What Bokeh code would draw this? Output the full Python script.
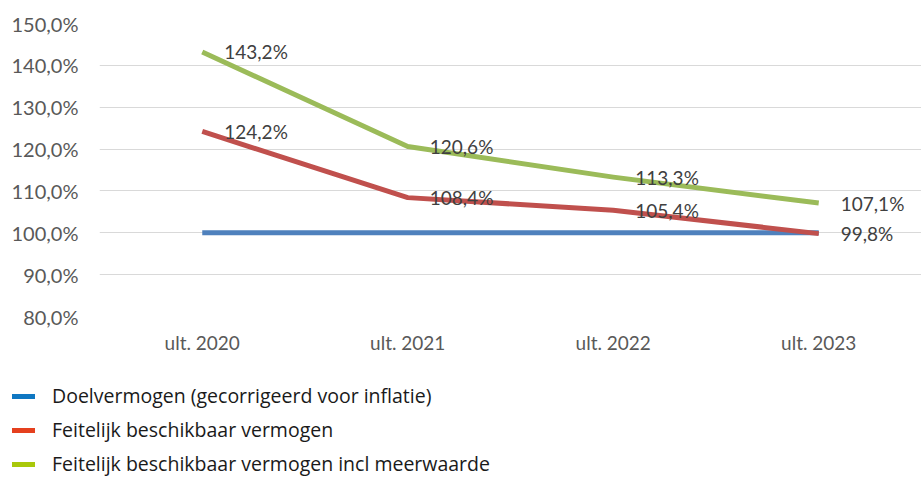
from bokeh.plotting import figure
from bokeh.models import Range1d, ColumnDataSource, LabelSet, Legend, LegendItem, FixedTicker
from bokeh.core.properties import value
from bokeh.embed import file_html
from bokeh.resources import INLINE

categories = ["ult. 2020", "ult. 2021", "ult. 2022", "ult. 2023"]
doel = [100.0, 100.0, 100.0, 100.0]
feitelijk = [124.2, 108.4, 105.4, 99.8]
incl_meerwaarde = [143.2, 120.6, 113.3, 107.1]
y_ticks = [80, 90, 100, 110, 120, 130, 140, 150]
legend_labels = [
    "Doelvermogen (gecorrigeerd voor inflatie)",
    "Feitelijk beschikbaar vermogen",
    "Feitelijk beschikbaar vermogen incl meerwaarde",
]

def pct(v):
    return f"{v:.1f}".replace(".", ",") + "%"

TICK_FONT = "Lato"

p = figure(x_range=categories, y_range=Range1d(80, 150), width=921, height=370,
           output_backend="svg", toolbar_location=None,
           min_border_left=99, min_border_right=0, min_border_top=23, min_border_bottom=54)
p.outline_line_color = None
p.background_fill_color = "white"
p.border_fill_color = "white"

p.xgrid.grid_line_color = None
p.ygrid.grid_line_color = "#d9d9d9"
p.ygrid.grid_line_width = 1

p.yaxis.ticker = FixedTicker(ticks=y_ticks)
p.yaxis.major_label_overrides = {t: pct(t) for t in y_ticks}
for ax in (p.xaxis[0], p.yaxis[0]):
    ax.axis_line_color = None
    ax.major_tick_line_color = None
    ax.minor_tick_line_color = None
    ax.major_label_text_font = TICK_FONT
    ax.major_label_text_color = "#595959"
p.yaxis.major_label_text_font_size = "20px"
p.xaxis.major_label_text_font_size = "19px"
p.yaxis.major_label_standoff = 15
p.xaxis.major_label_standoff = 8

p.line(categories, doel, line_color="#4f81bd", line_width=5)
p.line(categories, feitelijk, line_color="#c0504d", line_width=5, line_join="round")
p.line(categories, incl_meerwaarde, line_color="#9bbb59", line_width=5, line_join="round")

labels_x = categories + categories
labels_y = feitelijk + incl_meerwaarde
src = ColumnDataSource(dict(x=labels_x, y=labels_y, t=[pct(v) for v in labels_y]))
p.add_layout(LabelSet(x="x", y="y", text="t", source=src, x_offset=22,
                      text_baseline="middle", text_align="left",
                      text_font=value(TICK_FONT), text_font_size="19px", text_color="#404040"))

# legend panel (separate root, no frame alignment)
lg = figure(width=921, height=107, x_range=Range1d(0, 1), y_range=Range1d(0, 1),
            output_backend="svg", toolbar_location=None,
            x_axis_location=None, y_axis_location=None,
            min_border_left=0, min_border_right=0, min_border_top=0, min_border_bottom=0)
lg.outline_line_color = None
lg.grid.grid_line_color = None
legend_colors = ["#0f77c2", "#e5401e", "#a9c80a"]
items = []
for lab, col in zip(legend_labels, legend_colors):
    r = lg.line(x=[0], y=[float("nan")], line_color=col, line_width=5, line_cap="round")
    items.append(LegendItem(label=lab, renderers=[r]))

legend = Legend(items=items, location=(12, 0), orientation="vertical",
                border_line_color=None, background_fill_alpha=0,
                padding=0, margin=0, spacing=7, glyph_width=23, glyph_height=26,
                label_height=26, label_standoff=17,
                label_text_font="Open Sans", label_text_font_size="19.5px",
                label_text_color="#1a1a1a")
lg.add_layout(legend, "center")

open("out.html", "w").write(file_html([p, lg], INLINE))
